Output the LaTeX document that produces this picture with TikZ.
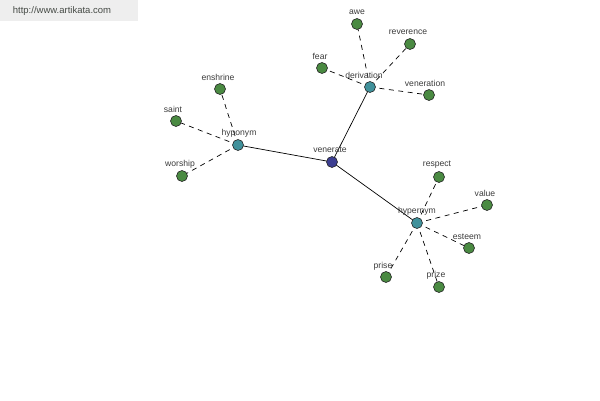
\documentclass[tikz,border=0pt]{standalone}
\usepackage{fontspec}
\setmainfont{Liberation Sans}
\definecolor{leafc}{RGB}{74,138,66}
\definecolor{hubc}{RGB}{64,145,155}
\definecolor{rootc}{RGB}{60,62,145}
\definecolor{lblc}{RGB}{60,60,60}
\definecolor{hdrc}{RGB}{238,238,238}
\definecolor{urlc}{RGB}{70,75,70}
\begin{document}
\begin{tikzpicture}[x=1pt,y=-1pt,
  dot/.style={circle,draw=black!85,line width=0.6pt,minimum size=11pt,inner sep=0pt},
  leaf/.style={dot,fill=leafc},
  hub/.style={dot,fill=hubc},
  root/.style={dot,fill=rootc},
  lbl/.style={font=\fontsize{8.6}{9}\selectfont,text=lblc,inner sep=0pt},
  solidlink/.style={draw=black,line width=0.7pt},
  dashlink/.style={draw=black,line width=0.7pt,dash pattern=on 5pt off 4.5pt}]
\useasboundingbox (0,0) rectangle (600,400);
\fill[white] (0,0) rectangle (600,400);
\fill[hdrc] (0,0) rectangle (138,21);
\node[font=\fontsize{9.5}{10}\selectfont,text=urlc,inner sep=0pt] (url) at (62,11) {http://www.artikata.com};
% coordinates of nodes
\coordinate (venerate) at (332,162);
\coordinate (hyponym) at (238,145);
\coordinate (derivation) at (370,87);
\coordinate (hypernym) at (417,223);
\coordinate (enshrine) at (220,89);
\coordinate (saint) at (176,121);
\coordinate (worship) at (182,176);
\coordinate (awe) at (357,24);
\coordinate (reverence) at (410,44);
\coordinate (fear) at (322,68);
\coordinate (veneration) at (429,95);
\coordinate (respect) at (439,177);
\coordinate (value) at (487,205);
\coordinate (esteem) at (469,248);
\coordinate (prize) at (439,287);
\coordinate (prise) at (386,277);
% links
\draw[solidlink] (venerate) -- (hyponym);
\draw[solidlink] (venerate) -- (derivation);
\draw[solidlink] (venerate) -- (hypernym);
\foreach \n in {enshrine,saint,worship} \draw[dashlink] (hyponym) -- (\n);
\foreach \n in {awe,reverence,fear,veneration} \draw[dashlink] (derivation) -- (\n);
\foreach \n in {respect,value,esteem,prize,prise} \draw[dashlink] (hypernym) -- (\n);
% dots
\node[root] (nvenerate) at (venerate) {};
\foreach \n in {hyponym,derivation,hypernym} \node[hub] (n\n) at (\n) {};
\foreach \n in {enshrine,saint,worship,awe,reverence,fear,veneration,respect,value,esteem,prize,prise} \node[leaf] (n\n) at (\n) {};
% labels
\node[lbl] (lvenerate) at (330,150) {venerate};
\node[lbl] (lhyponym) at (239,133) {hyponym};
\node[lbl] (lderivation) at (364,75) {derivation};
\node[lbl] (lhypernym) at (417,211) {hypernym};
\node[lbl] (lenshrine) at (218,77) {enshrine};
\node[lbl] (lsaint) at (173,109) {saint};
\node[lbl] (lworship) at (180,164) {worship};
\node[lbl] (lawe) at (357,12) {awe};
\node[lbl] (lreverence) at (408,32) {reverence};
\node[lbl] (lfear) at (320,56) {fear};
\node[lbl] (lveneration) at (425,83) {veneration};
\node[lbl] (lrespect) at (437,165) {respect};
\node[lbl] (lvalue) at (485,193) {value};
\node[lbl] (lesteem) at (467,237) {esteem};
\node[lbl] (lprize) at (436,275) {prize};
\node[lbl] (lprise) at (383,266) {prise};
\end{tikzpicture}
\end{document}
